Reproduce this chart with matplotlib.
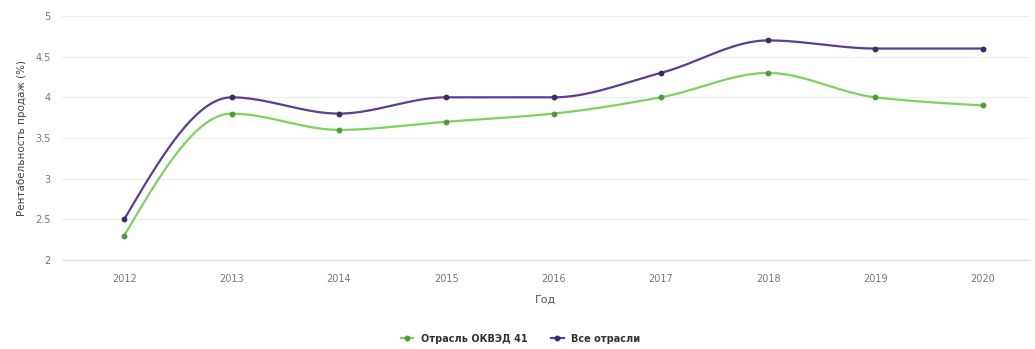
import numpy as np
import matplotlib.pyplot as plt

years = [2012, 2013, 2014, 2015, 2016, 2017, 2018, 2019, 2020]
okved41 = [2.3, 3.8, 3.6, 3.7, 3.8, 4.0, 4.3, 4.0, 3.9]
all_sectors = [2.5, 4.0, 3.8, 4.0, 4.0, 4.3, 4.7, 4.6, 4.6]
y_ticks = [2, 2.5, 3, 3.5, 4, 4.5, 5]

GREEN = '#80d060'
GREEN_DARK = '#4f9a3a'
PURPLE = '#5c3d8f'
PURPLE_DARK = '#3e2a66'


def monotone_curve(x, y, n=40):
    # monotone cubic (Fritsch-Carlson) so the line does not overshoot
    x = np.asarray(x, float)
    y = np.asarray(y, float)
    h = np.diff(x)
    d = np.diff(y) / h
    m = np.zeros_like(y)
    for i in range(1, len(y) - 1):
        if d[i - 1] * d[i] <= 0:
            m[i] = 0
        else:
            w1 = 2 * h[i] + h[i - 1]
            w2 = h[i] + 2 * h[i - 1]
            m[i] = (w1 + w2) / (w1 / d[i - 1] + w2 / d[i])
    # end slopes from the neighbouring tangent
    m[0] = (3 * d[0] - m[1]) / 2
    m[-1] = (3 * d[-1] - m[-2]) / 2
    xs, ys = [], []
    for i in range(len(x) - 1):
        t = np.linspace(0, 1, n)
        h00 = 2 * t**3 - 3 * t**2 + 1
        h10 = t**3 - 2 * t**2 + t
        h01 = -2 * t**3 + 3 * t**2
        h11 = t**3 - t**2
        xs.append(x[i] + t * h[i])
        ys.append(h00 * y[i] + h10 * h[i] * m[i] + h01 * y[i + 1] + h11 * h[i] * m[i + 1])
    return np.concatenate(xs), np.concatenate(ys)


fig = plt.figure(figsize=(10.35, 3.49), dpi=100)
ax = fig.add_axes([62 / 1035, 1 - 260 / 349, (1030 - 62) / 1035, (260 - 16) / 349])

for vals, col, dark, label in [(okved41, GREEN, GREEN_DARK, 'Отрасль ОКВЭД 41'),
                               (all_sectors, PURPLE, PURPLE_DARK, 'Все отрасли')]:
    cx, cy = monotone_curve(years, vals)
    ax.plot(cx, cy, color=col, lw=1.6, zorder=3)
    ax.plot(years, vals, ls='none', marker='o', ms=3.2, color=dark, zorder=4)
    ax.plot([], [], color=col, lw=1.6, marker='o', ms=3.2, mfc=dark, mec=dark, label=label)

ax.set_xlim(2011.42, 2020.44)
ax.set_ylim(2, 5)
ax.set_xticks(years)
ax.set_yticks(y_ticks)
ax.set_yticklabels([f'{v:g}' for v in y_ticks])
ax.grid(axis='y', color='#eeeeee', lw=0.9)
ax.set_axisbelow(True)
for s in ['top', 'right', 'left']:
    ax.spines[s].set_visible(False)
ax.spines['bottom'].set_color('#dddddd')
ax.tick_params(length=0, labelsize=7, colors='#777777', pad=10)
ax.tick_params(axis='y', pad=8)

ax.set_xlabel('Год', fontsize=8, color='#555555', labelpad=8)
ax.set_ylabel('Рентабельность продаж (%)', fontsize=7.5, color='#444444', labelpad=6)

fig.legend(loc='lower center', bbox_to_anchor=(0.503, -0.01), ncol=2, frameon=False,
           handlelength=1.3, columnspacing=2.4, labelcolor='#333333',
           prop={'weight': 'bold', 'size': 7})

fig.savefig('out.png', dpi=100, facecolor='white')
